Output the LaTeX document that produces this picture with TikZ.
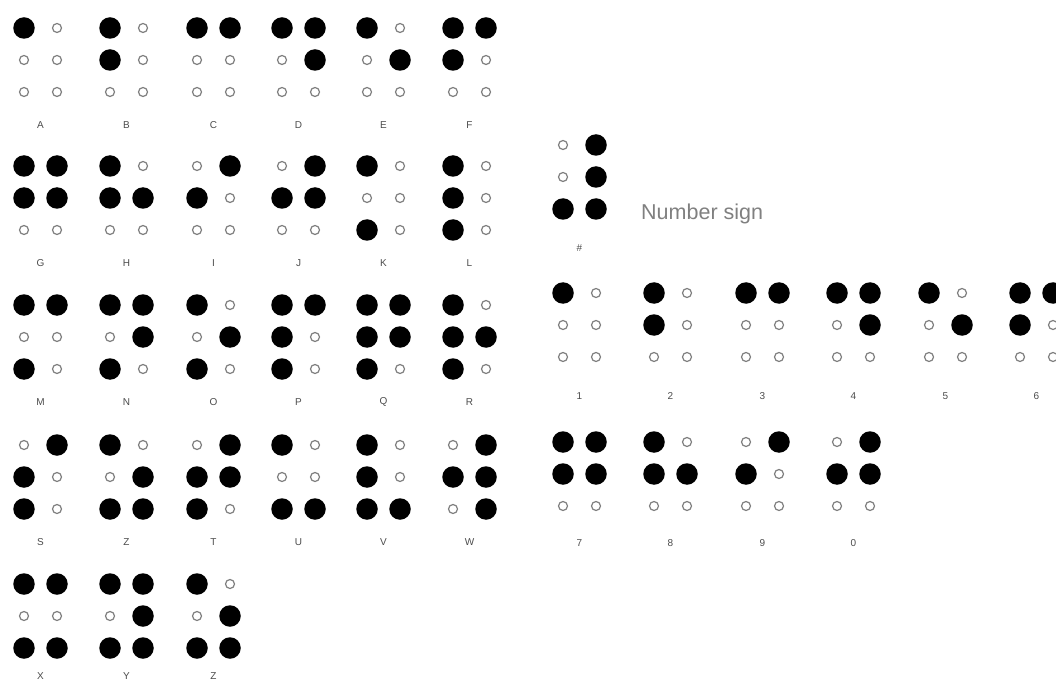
\documentclass[tikz,border=0pt]{standalone}
\usepackage{fontspec}
\setmainfont{Liberation Sans}
\begin{document}
\begin{tikzpicture}[x=1pt,y=-1pt,
  fdot/.style={circle,fill=black,draw=none,minimum size=21.5pt,inner sep=0pt},
  edot/.style={circle,draw=black!50,line width=1.2pt,fill=white,minimum size=9pt,inner sep=0pt},
  lbl/.style={font=\fontsize{10}{11}\selectfont,text=black!70,inner sep=0pt},
  bigtxt/.style={font=\fontsize{21.5}{24}\selectfont,text=black!50,inner sep=0pt,anchor=west}]
\useasboundingbox (0,0) rectangle (1056,684);
\fill[white] (0,0) rectangle (1056,684);
\newcommand\lbloff{97}
\newcommand\brcell[5]{%
  \foreach \v [count=\i] in {#5} {
    \pgfmathtruncatemacro\bc{(\i-1)/3}
    \pgfmathtruncatemacro\br{mod(\i-1,3)}
    \ifnum\v=1
      \node[fdot] (#3-\i) at ({#1+33*\bc},{#2+32*\br}) {};
    \else
      \node[edot] (#3-\i) at ({#1+33*\bc},{#2+32*\br}) {};
    \fi
  }
  \node[lbl] (#3-l) at ({#1+16.5},{#2+\lbloff}) {#4};
}
% row 1
\brcell{24}{28}{cA}{A}{1,0,0,0,0,0}
\brcell{110}{28}{cB}{B}{1,1,0,0,0,0}
\brcell{197}{28}{cC}{C}{1,0,0,1,0,0}
\brcell{282}{28}{cD}{D}{1,0,0,1,1,0}
\brcell{367}{28}{cE}{E}{1,0,0,0,1,0}
\brcell{453}{28}{cF}{F}{1,1,0,1,0,0}
% row 2
\brcell{24}{166}{cG}{G}{1,1,0,1,1,0}
\brcell{110}{166}{cH}{H}{1,1,0,0,1,0}
\brcell{197}{166}{cI}{I}{0,1,0,1,0,0}
\brcell{282}{166}{cJ}{J}{0,1,0,1,1,0}
\brcell{367}{166}{cK}{K}{1,0,1,0,0,0}
\brcell{453}{166}{cL}{L}{1,1,1,0,0,0}
% row 3
\brcell{24}{305}{cM}{M}{1,0,1,1,0,0}
\brcell{110}{305}{cN}{N}{1,0,1,1,1,0}
\brcell{197}{305}{cO}{O}{1,0,1,0,1,0}
\brcell{282}{305}{cP}{P}{1,1,1,1,0,0}
\brcell{367}{305}{cQ}{Q}{1,1,1,1,1,0}
\brcell{453}{305}{cR}{R}{1,1,1,0,1,0}
% row 4
\brcell{24}{445}{cS}{S}{0,1,1,1,0,0}
\brcell{110}{445}{cZa}{Z}{1,0,1,0,1,1}
\brcell{197}{445}{cT}{T}{0,1,1,1,1,0}
\brcell{282}{445}{cU}{U}{1,0,1,0,0,1}
\brcell{367}{445}{cV}{V}{1,1,1,0,0,1}
\brcell{453}{445}{cW}{W}{0,1,0,1,1,1}
% row 5
\renewcommand\lbloff{92}
\brcell{24}{584}{cX}{X}{1,0,1,1,0,1}
\brcell{110}{584}{cY}{Y}{1,0,1,1,1,1}
\brcell{197}{584}{cZ}{Z}{1,0,1,0,1,1}
% number sign
\renewcommand\lbloff{103}
\brcell{563}{145}{cNum}{\#}{0,0,1,1,1,1}
\node[bigtxt] (numtxt) at (641,214) {Number sign};
% numbers
\brcell{563}{293}{n1}{1}{1,0,0,0,0,0}
\brcell{654}{293}{n2}{2}{1,1,0,0,0,0}
\brcell{746}{293}{n3}{3}{1,0,0,1,0,0}
\brcell{837}{293}{n4}{4}{1,0,0,1,1,0}
\brcell{929}{293}{n5}{5}{1,0,0,0,1,0}
\brcell{1020}{293}{n6}{6}{1,1,0,1,0,0}
\renewcommand\lbloff{101}
\brcell{563}{442}{n7}{7}{1,1,0,1,1,0}
\brcell{654}{442}{n8}{8}{1,1,0,0,1,0}
\brcell{746}{442}{n9}{9}{0,1,0,1,0,0}
\brcell{837}{442}{n0}{0}{0,1,0,1,1,0}
\end{tikzpicture}
\end{document}
